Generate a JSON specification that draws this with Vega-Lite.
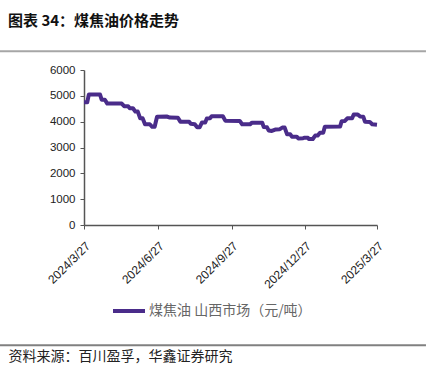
{
  "$schema": "https://vega.github.io/schema/vega-lite/v6.json",
  "width": 293,
  "height": 155,
  "autosize": {"type": "none"},
  "padding": {"left": 84, "top": 70, "right": 49, "bottom": 142},
  "background": "white",
  "config": {
    "view": {"stroke": null},
    "font": "Liberation Sans"
  },
  "title": {
    "text": "图表 34：煤焦油价格走势",
    "anchor": "start",
    "frame": "group",
    "orient": "top",
    "font": "Noto Sans CJK SC",
    "fontSize": 15,
    "fontWeight": "bold",
    "color": "#111111",
    "baseline": "alphabetic",
    "offset": 9,
    "dx": -76
  },
  "datasets": {
    "price": [
      {"date": "2024-03-27", "value": 4750, "series": "煤焦油 山西市场（元/吨）"},
      {"date": "2024-03-31", "value": 4750, "series": "煤焦油 山西市场（元/吨）"},
      {"date": "2024-04-02", "value": 5050, "series": "煤焦油 山西市场（元/吨）"},
      {"date": "2024-04-16", "value": 5050, "series": "煤焦油 山西市场（元/吨）"},
      {"date": "2024-04-18", "value": 4850, "series": "煤焦油 山西市场（元/吨）"},
      {"date": "2024-04-22", "value": 4850, "series": "煤焦油 山西市场（元/吨）"},
      {"date": "2024-04-25", "value": 4700, "series": "煤焦油 山西市场（元/吨）"},
      {"date": "2024-05-13", "value": 4700, "series": "煤焦油 山西市场（元/吨）"},
      {"date": "2024-05-16", "value": 4600, "series": "煤焦油 山西市场（元/吨）"},
      {"date": "2024-05-21", "value": 4600, "series": "煤焦油 山西市场（元/吨）"},
      {"date": "2024-05-23", "value": 4520, "series": "煤焦油 山西市场（元/吨）"},
      {"date": "2024-05-27", "value": 4520, "series": "煤焦油 山西市场（元/吨）"},
      {"date": "2024-05-30", "value": 4390, "series": "煤焦油 山西市场（元/吨）"},
      {"date": "2024-06-02", "value": 4390, "series": "煤焦油 山西市场（元/吨）"},
      {"date": "2024-06-05", "value": 4130, "series": "煤焦油 山西市场（元/吨）"},
      {"date": "2024-06-08", "value": 4130, "series": "煤焦油 山西市场（元/吨）"},
      {"date": "2024-06-11", "value": 3900, "series": "煤焦油 山西市场（元/吨）"},
      {"date": "2024-06-17", "value": 3900, "series": "煤焦油 山西市场（元/吨）"},
      {"date": "2024-06-20", "value": 3800, "series": "煤焦油 山西市场（元/吨）"},
      {"date": "2024-06-23", "value": 3800, "series": "煤焦油 山西市场（元/吨）"},
      {"date": "2024-06-26", "value": 4190, "series": "煤焦油 山西市场（元/吨）"},
      {"date": "2024-07-08", "value": 4200, "series": "煤焦油 山西市场（元/吨）"},
      {"date": "2024-07-12", "value": 4160, "series": "煤焦油 山西市场（元/吨）"},
      {"date": "2024-07-22", "value": 4150, "series": "煤焦油 山西市场（元/吨）"},
      {"date": "2024-07-25", "value": 4000, "series": "煤焦油 山西市场（元/吨）"},
      {"date": "2024-08-05", "value": 4000, "series": "煤焦油 山西市场（元/吨）"},
      {"date": "2024-08-07", "value": 3920, "series": "煤焦油 山西市场（元/吨）"},
      {"date": "2024-08-12", "value": 3900, "series": "煤焦油 山西市场（元/吨）"},
      {"date": "2024-08-15", "value": 3780, "series": "煤焦油 山西市场（元/吨）"},
      {"date": "2024-08-18", "value": 3780, "series": "煤焦油 山西市场（元/吨）"},
      {"date": "2024-08-21", "value": 3970, "series": "煤焦油 山西市场（元/吨）"},
      {"date": "2024-08-25", "value": 3970, "series": "煤焦油 山西市场（元/吨）"},
      {"date": "2024-08-27", "value": 4120, "series": "煤焦油 山西市场（元/吨）"},
      {"date": "2024-08-31", "value": 4130, "series": "煤焦油 山西市场（元/吨）"},
      {"date": "2024-09-02", "value": 4210, "series": "煤焦油 山西市场（元/吨）"},
      {"date": "2024-09-16", "value": 4210, "series": "煤焦油 山西市场（元/吨）"},
      {"date": "2024-09-19", "value": 4040, "series": "煤焦油 山西市场（元/吨）"},
      {"date": "2024-10-07", "value": 4030, "series": "煤焦油 山西市场（元/吨）"},
      {"date": "2024-10-10", "value": 3900, "series": "煤焦油 山西市场（元/吨）"},
      {"date": "2024-10-20", "value": 3900, "series": "煤焦油 山西市场（元/吨）"},
      {"date": "2024-10-22", "value": 3960, "series": "煤焦油 山西市场（元/吨）"},
      {"date": "2024-11-04", "value": 3960, "series": "煤焦油 山西市场（元/吨）"},
      {"date": "2024-11-06", "value": 3790, "series": "煤焦油 山西市场（元/吨）"},
      {"date": "2024-11-10", "value": 3780, "series": "煤焦油 山西市场（元/吨）"},
      {"date": "2024-11-12", "value": 3660, "series": "煤焦油 山西市场（元/吨）"},
      {"date": "2024-11-16", "value": 3640, "series": "煤焦油 山西市场（元/吨）"},
      {"date": "2024-11-21", "value": 3700, "series": "煤焦油 山西市场（元/吨）"},
      {"date": "2024-11-26", "value": 3710, "series": "煤焦油 山西市场（元/吨）"},
      {"date": "2024-11-29", "value": 3770, "series": "煤焦油 山西市场（元/吨）"},
      {"date": "2024-12-02", "value": 3770, "series": "煤焦油 山西市场（元/吨）"},
      {"date": "2024-12-05", "value": 3510, "series": "煤焦油 山西市场（元/吨）"},
      {"date": "2024-12-09", "value": 3510, "series": "煤焦油 山西市场（元/吨）"},
      {"date": "2024-12-11", "value": 3420, "series": "煤焦油 山西市场（元/吨）"},
      {"date": "2024-12-17", "value": 3420, "series": "煤焦油 山西市场（元/吨）"},
      {"date": "2024-12-19", "value": 3350, "series": "煤焦油 山西市场（元/吨）"},
      {"date": "2024-12-25", "value": 3360, "series": "煤焦油 山西市场（元/吨）"},
      {"date": "2024-12-27", "value": 3380, "series": "煤焦油 山西市场（元/吨）"},
      {"date": "2024-12-31", "value": 3380, "series": "煤焦油 山西市场（元/吨）"},
      {"date": "2025-01-01", "value": 3330, "series": "煤焦油 山西市场（元/吨）"},
      {"date": "2025-01-06", "value": 3330, "series": "煤焦油 山西市场（元/吨）"},
      {"date": "2025-01-09", "value": 3460, "series": "煤焦油 山西市场（元/吨）"},
      {"date": "2025-01-12", "value": 3460, "series": "煤焦油 山西市场（元/吨）"},
      {"date": "2025-01-15", "value": 3570, "series": "煤焦油 山西市场（元/吨）"},
      {"date": "2025-01-19", "value": 3570, "series": "煤焦油 山西市场（元/吨）"},
      {"date": "2025-01-21", "value": 3800, "series": "煤焦油 山西市场（元/吨）"},
      {"date": "2025-02-09", "value": 3810, "series": "煤焦油 山西市场（元/吨）"},
      {"date": "2025-02-11", "value": 4020, "series": "煤焦油 山西市场（元/吨）"},
      {"date": "2025-02-15", "value": 4030, "series": "煤焦油 山西市场（元/吨）"},
      {"date": "2025-02-18", "value": 4130, "series": "煤焦油 山西市场（元/吨）"},
      {"date": "2025-02-24", "value": 4130, "series": "煤焦油 山西市场（元/吨）"},
      {"date": "2025-02-26", "value": 4280, "series": "煤焦油 山西市场（元/吨）"},
      {"date": "2025-03-03", "value": 4280, "series": "煤焦油 山西市场（元/吨）"},
      {"date": "2025-03-06", "value": 4200, "series": "煤焦油 山西市场（元/吨）"},
      {"date": "2025-03-10", "value": 4190, "series": "煤焦油 山西市场（元/吨）"},
      {"date": "2025-03-12", "value": 4000, "series": "煤焦油 山西市场（元/吨）"},
      {"date": "2025-03-18", "value": 3990, "series": "煤焦油 山西市场（元/吨）"},
      {"date": "2025-03-21", "value": 3900, "series": "煤焦油 山西市场（元/吨）"},
      {"date": "2025-03-27", "value": 3880, "series": "煤焦油 山西市场（元/吨）"}
    ]
  },
  "layer": [
    {
      "data": {"name": "price"},
      "mark": {"type": "line", "strokeWidth": 4, "strokeJoin": "round", "strokeCap": "butt"},
      "encoding": {
        "x": {
          "field": "date",
          "type": "temporal",
          "scale": {
            "type": "utc",
            "domain": [
              {"year": 2024, "month": 3, "date": 27, "utc": true},
              {"year": 2025, "month": 3, "date": 27, "utc": true}
            ],
            "nice": false
          },
          "axis": {
            "values": [
              {"year": 2024, "month": 3, "date": 27, "utc": true},
              {"year": 2024, "month": 6, "date": 27, "utc": true},
              {"year": 2024, "month": 9, "date": 27, "utc": true},
              {"year": 2024, "month": 12, "date": 27, "utc": true},
              {"year": 2025, "month": 3, "date": 27, "utc": true}
            ],
            "labelExpr": "utcFormat(datum.value, '%Y/%-m/%-d')",
            "labelAngle": -45,
            "labelAlign": "right",
            "labelBaseline": "top",
            "labelFontSize": 12,
            "labelColor": "#222222",
            "labelPadding": 11,
            "labelFlush": false,
            "labelOverlap": false,
            "grid": false,
            "domainColor": "#555555",
            "domainWidth": 1.5,
            "tickColor": "#555555",
            "tickSize": 4,
            "tickWidth": 1,
            "title": "资料来源：百川盈孚，华鑫证券研究",
            "titleFont": "Noto Sans CJK SC",
            "titleFontSize": 14,
            "titleFontWeight": "normal",
            "titleColor": "#222222",
            "titleAlign": "left",
            "titleAnchor": "start",
            "titleBaseline": "middle",
            "titleX": -76,
            "titleY": 131
          }
        },
        "y": {
          "field": "value",
          "type": "quantitative",
          "scale": {"domain": [0, 6000], "nice": false},
          "axis": {
            "values": [0, 1000, 2000, 3000, 4000, 5000, 6000],
            "tickCount": 7,
            "format": "d",
            "labelFontSize": 11.5,
            "labelColor": "#222222",
            "labelPadding": 5,
            "labelOverlap": false,
            "labelFlush": false,
            "grid": false,
            "domainColor": "#555555",
            "domainWidth": 1.5,
            "tickColor": "#555555",
            "tickSize": 4,
            "title": null
          }
        },
        "color": {
          "field": "series",
          "type": "nominal",
          "scale": {"range": ["#4a2c8a"]},
          "legend": {
            "title": null,
            "orient": "none",
            "legendX": 27,
            "legendY": 223,
            "symbolType": "stroke",
            "symbolSize": 1024,
            "symbolStrokeWidth": 4,
            "labelFont": "Noto Sans CJK SC",
            "labelFontSize": 14,
            "labelColor": "#666666",
            "labelOffset": 2,
            "labelLimit": 400
          }
        }
      }
    },
    {
      "data": {"values": [{}]},
      "mark": {"type": "rule", "clip": false, "color": "#a6a6a6", "strokeWidth": 2},
      "encoding": {
        "x": {"datum": {"year": 2023, "month": 12, "date": 13, "utc": true}, "type": "temporal"},
        "x2": {"datum": {"year": 2025, "month": 5, "date": 27, "utc": true}},
        "y": {
          "datum": 6730,
          "type": "quantitative",
          "axis": {
            "values": [0, 1000, 2000, 3000, 4000, 5000, 6000],
            "tickCount": 7,
            "format": "d",
            "labelFontSize": 11.5,
            "labelColor": "#222222",
            "labelPadding": 5,
            "labelOverlap": false,
            "labelFlush": false,
            "grid": false,
            "domainColor": "#555555",
            "domainWidth": 1.5,
            "tickColor": "#555555",
            "tickSize": 4,
            "title": null
          }
        }
      }
    },
    {
      "data": {"values": [{}]},
      "mark": {"type": "rule", "clip": false, "color": "#808080", "strokeWidth": 2},
      "encoding": {
        "x": {"datum": {"year": 2023, "month": 12, "date": 13, "utc": true}, "type": "temporal"},
        "x2": {"datum": {"year": 2025, "month": 5, "date": 27, "utc": true}},
        "y": {
          "datum": -4650,
          "type": "quantitative",
          "axis": {
            "values": [0, 1000, 2000, 3000, 4000, 5000, 6000],
            "tickCount": 7,
            "format": "d",
            "labelFontSize": 11.5,
            "labelColor": "#222222",
            "labelPadding": 5,
            "labelOverlap": false,
            "labelFlush": false,
            "grid": false,
            "domainColor": "#555555",
            "domainWidth": 1.5,
            "tickColor": "#555555",
            "tickSize": 4,
            "title": null
          }
        }
      }
    }
  ]
}
